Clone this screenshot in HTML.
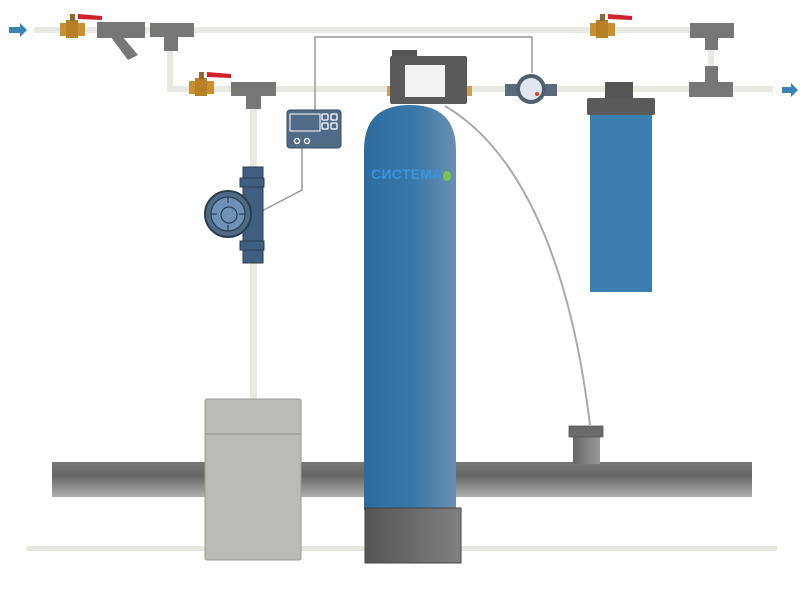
<!DOCTYPE html>
<html><head><meta charset="utf-8"><style>body{margin:0;background:#fff}svg{display:block}</style></head><body>
<svg width="800" height="600" viewBox="0 0 800 600" xmlns="http://www.w3.org/2000/svg">
<defs>
<linearGradient id="tank" x1="0" x2="1"><stop offset="0" stop-color="#2e6ca0"/><stop offset="0.55" stop-color="#3a78a8"/><stop offset="1" stop-color="#6a90b0"/></linearGradient>
<linearGradient id="sewer" x1="0" y1="0" x2="0" y2="1"><stop offset="0" stop-color="#777"/><stop offset="0.4" stop-color="#666"/><stop offset="1" stop-color="#b0b0b0"/></linearGradient>
<linearGradient id="base" x1="0" x2="1"><stop offset="0" stop-color="#555"/><stop offset="1" stop-color="#808080"/></linearGradient>
<linearGradient id="drain" x1="0" x2="1"><stop offset="0" stop-color="#666"/><stop offset="1" stop-color="#999"/></linearGradient>
</defs>
<rect x="27" y="546" width="750" height="5" fill="#e6e8e0"/>
<rect x="52" y="462" width="700" height="35" fill="url(#sewer)"/>
<rect x="573" y="434" width="27" height="30" fill="url(#drain)"/>
<rect x="569" y="426" width="34" height="11" fill="#6a6a6a" stroke="#555" stroke-width="0.8"/>
<g fill="#e8e9e2">
<rect x="34" y="27" width="700" height="6"/>
<rect x="167" y="86" width="606" height="6"/>
<rect x="167" y="30" width="6" height="60"/>
<rect x="250" y="92" width="7" height="310"/>
<rect x="708" y="33" width="6" height="55"/>
</g>
<polygon points="9,27 20,27 20,23 27,30 20,37 20,33 9,33" fill="#3a82b8"/>
<polygon points="782,87 791,87 791,83 798,90 791,97 791,93 782,93" fill="#3a82b8"/>
<g id="v">
<rect x="60" y="23" width="25" height="13" fill="#c9902e"/><rect x="66" y="20" width="12" height="18" fill="#b88026"/>
<rect x="70" y="14" width="5" height="7" fill="#8a6a30"/><polygon points="78,14 102,16 102,20 78,19" fill="#d0202a"/>
</g>
<use href="#v" x="129" y="58"/>
<use href="#v" x="530" y="0"/>
<g fill="#777">
<rect x="97" y="22" width="48" height="16"/><polygon points="110,36 122,36 138,55 128,60"/>
<rect x="150" y="23" width="44" height="14"/><rect x="164" y="35" width="14" height="16"/>
<rect x="231" y="82" width="45" height="14"/><rect x="246" y="94" width="15" height="15"/>
<rect x="690" y="23" width="44" height="15"/><rect x="705" y="36" width="13" height="14"/>
<rect x="689" y="82" width="44" height="15"/><rect x="705" y="66" width="13" height="18"/>
</g>
<polyline points="315,110 315,37 532,37 532,73" fill="none" stroke="#999" stroke-width="1.5"/>
<polyline points="302,148 302,190 258,213" fill="none" stroke="#999" stroke-width="1.5"/>
<path d="M445,106 C520,150 570,260 590,425" fill="none" stroke="#aaa" stroke-width="2"/>
<rect x="287" y="110" width="54" height="38" rx="3" fill="#4f6b88" stroke="#3a4e62"/>
<rect x="290" y="114" width="30" height="17" fill="none" stroke="#fff" stroke-width="1"/>
<g fill="none" stroke="#fff" stroke-width="1.3"><rect x="322" y="114" width="6" height="6" rx="1"/><rect x="331" y="114" width="6" height="6" rx="1"/><rect x="322" y="123" width="6" height="6" rx="1"/><rect x="331" y="123" width="6" height="6" rx="1"/><circle cx="297" cy="141" r="2.5"/><circle cx="307" cy="141" r="2.5"/></g>
<rect x="243" y="167" width="20" height="96" fill="#3e5f80" stroke="#2c3e50"/>
<rect x="240" y="178" width="24" height="9" fill="#3e5f80" stroke="#2c3e50"/>
<rect x="240" y="241" width="24" height="9" fill="#3e5f80" stroke="#2c3e50"/>
<circle cx="228" cy="214" r="23" fill="#4f6b88" stroke="#2c3e50" stroke-width="2"/>
<circle cx="228" cy="214" r="17" fill="#6e92b8" stroke="#2c3e50" stroke-width="1.2"/>
<g stroke="#2c3e50" stroke-width="1.2"><line x1="228" y1="197" x2="228" y2="203"/><line x1="228" y1="225" x2="228" y2="231"/><line x1="211" y1="214" x2="217" y2="214"/><line x1="239" y1="214" x2="245" y2="214"/></g>
<circle cx="229" cy="215" r="8" fill="none" stroke="#2c3e50" stroke-width="1.2"/>
<rect x="205" y="399" width="96" height="161" rx="2" fill="#bcbab5" stroke="#9a9a96"/>
<line x1="205" y1="434" x2="301" y2="434" stroke="#8e8e8a"/>
<path d="M364,150 Q364,105 410,105 Q456,105 456,150 L456,510 L364,510 Z" fill="url(#tank)"/>
<rect x="365" y="508" width="96" height="55" fill="url(#base)" stroke="#444"/>
<text x="371" y="179" font-family="Liberation Sans, DejaVu Sans, sans-serif" font-weight="bold" font-size="14" fill="#3a92dc" letter-spacing="0.3">СИСТЕМА</text>
<ellipse cx="447" cy="176" rx="4" ry="5" fill="#7ac64a"/>
<rect x="387" y="86" width="5" height="10" fill="#c9a05a"/><rect x="467" y="86" width="5" height="10" fill="#c9a05a"/>
<rect x="392" y="50" width="25" height="8" fill="#555"/>
<rect x="390" y="56" width="77" height="48" rx="2" fill="#5a5a5a"/>
<rect x="405" y="65" width="40" height="32" fill="#f2f2f2"/>
<rect x="505" y="84" width="52" height="12" fill="#5a6a7a"/>
<circle cx="531" cy="89" r="15" fill="#4f5f70"/>
<circle cx="531" cy="89" r="11" fill="#dfe8ee"/>
<circle cx="537" cy="94" r="2" fill="#e04020"/>
<rect x="605" y="82" width="28" height="17" fill="#555"/>
<rect x="587" y="98" width="68" height="17" rx="2" fill="#5a5a5a"/>
<rect x="590" y="115" width="62" height="177" fill="#3a7fb0"/>
</svg>
</body></html>
